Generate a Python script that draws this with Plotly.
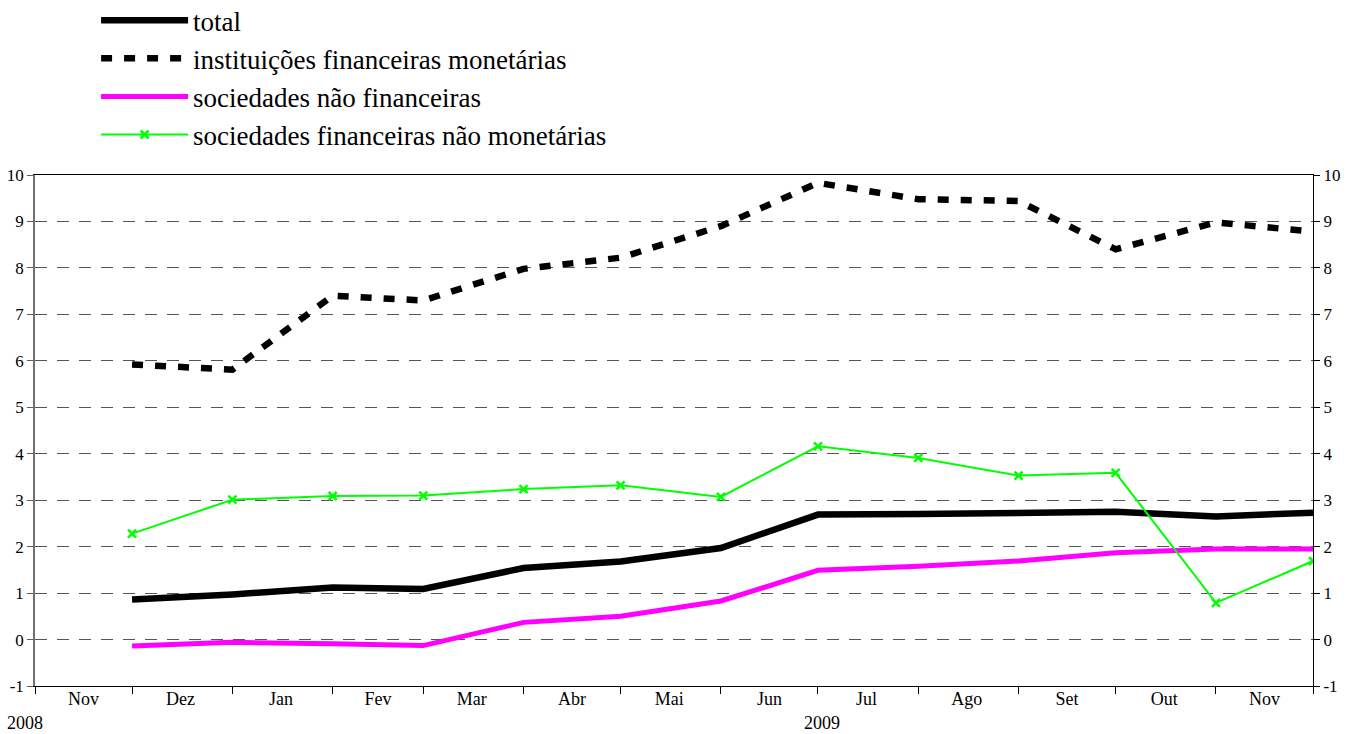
import plotly.graph_objects as go

# End-of-month observation dates (plotted at month boundaries)
period_end = ["2008-12-01", "2009-01-01", "2009-02-01", "2009-03-01", "2009-04-01",
              "2009-05-01", "2009-06-01", "2009-07-01", "2009-08-01", "2009-09-01",
              "2009-10-01", "2009-11-01", "2009-12-01"]

total = [0.86, 0.97, 1.12, 1.09, 1.54, 1.68, 1.97, 2.69, 2.70, 2.74, 2.75, 2.65, 2.73]
inst_fin_monetarias = [5.92, 5.81, 7.40, 7.30, 7.98, 8.22, 8.90, 9.83, 9.48, 9.44, 8.40, 8.98, 8.78]
soc_nao_financeiras = [-0.14, -0.06, -0.09, -0.13, 0.37, 0.50, 0.83, 1.49, 1.58, 1.69, 1.87, 1.95, 1.95]
soc_fin_nao_monetarias = [2.28, 3.01, 3.09, 3.10, 3.24, 3.32, 3.07, 4.16, 3.91, 3.53, 3.59, 0.79, 1.69]

series_names = ["total", "instituições financeiras monetárias",
                "sociedades não financeiras", "sociedades financeiras não monetárias"]

month_mid = ["2008-11-16", "2008-12-16", "2009-01-16", "2009-02-15", "2009-03-16",
             "2009-04-16", "2009-05-16", "2009-06-16", "2009-07-16", "2009-08-16",
             "2009-09-16", "2009-10-16", "2009-11-16"]
month_labels = ["Nov", "Dez", "Jan", "Fev", "Mar", "Abr", "Mai", "Jun", "Jul", "Ago",
                "Set", "Out", "Nov"]
month_bounds = ["2008-11-01", "2008-12-01", "2009-01-01", "2009-02-01", "2009-03-01",
                "2009-04-01", "2009-05-01", "2009-06-01", "2009-07-01", "2009-08-01",
                "2009-09-01", "2009-10-01", "2009-11-01", "2009-12-01"]
year_labels = ["2008", "2009"]
y_ticks = list(range(-1, 11))
y_tick_text = [str(v) for v in y_ticks]

FONT = "Liberation Serif, Times New Roman, serif"
x_range = ["2008-11-01", "2009-12-01"]

fig = go.Figure()
fig.add_trace(go.Scatter(x=period_end, y=total, name=series_names[0], mode="lines",
                         line=dict(color="#000000", width=6.5)))
fig.add_trace(go.Scatter(x=period_end, y=inst_fin_monetarias, name=series_names[1], mode="lines",
                         line=dict(color="#000000", width=6.5, dash="11px,12px")))
fig.add_trace(go.Scatter(x=period_end, y=soc_nao_financeiras, name=series_names[2], mode="lines",
                         line=dict(color="#FF00FF", width=5)))
fig.add_trace(go.Scatter(x=period_end, y=soc_fin_nao_monetarias, name=series_names[3],
                         mode="lines+markers",
                         line=dict(color="#00FF00", width=2),
                         marker=dict(symbol="x-thin", size=8, color="#00FF00",
                                     line=dict(color="#00FF00", width=2.5))))
# helper invisible trace binding secondary axes
fig.add_trace(go.Scatter(x=[x_range[0]], y=[None], xaxis="x2", yaxis="y2",
                         showlegend=False, hoverinfo="skip", mode="lines"))

fig.update_layout(
    width=1367, height=734,
    margin=dict(l=35, r=54, t=175, b=48, autoexpand=False),
    paper_bgcolor="white", plot_bgcolor="white",
    font=dict(family=FONT, color="#000000", size=17),
    showlegend=True,
    legend=dict(x=0.0478, y=1.350,
                xanchor="left", yanchor="top",
                font=dict(family=FONT, size=27, color="#000000"),
                bgcolor="rgba(0,0,0,0)", itemwidth=87, tracegroupgap=0),
    xaxis=dict(type="date", range=x_range, tickmode="array", tickvals=month_bounds,
               showticklabels=False, ticks="outside", ticklen=7, tickcolor="#000000",
               showgrid=False, showline=True, linecolor="#000000", linewidth=1,
               mirror=True, zeroline=False, automargin=False),
    xaxis2=dict(type="date", range=x_range, overlaying="x", side="bottom",
                tickmode="array", tickvals=month_mid, ticktext=month_labels,
                ticks="", showgrid=False, showline=False, zeroline=False,
                tickfont=dict(family=FONT, size=18), automargin=False),
    yaxis=dict(range=[-1, 10], tickmode="array", tickvals=y_ticks, ticktext=y_tick_text,
               ticks="outside", ticklen=6, tickcolor="#606060",
               showgrid=True, gridcolor="#555555", gridwidth=1, griddash="12px,10px",
               showline=True, linecolor="#707070", linewidth=1.5, zeroline=False,
               tickfont=dict(family=FONT, size=17), automargin=False),
    yaxis2=dict(range=[-1, 10], overlaying="y", side="right", tickmode="array",
                tickvals=y_ticks, ticktext=y_tick_text, ticks="outside", ticklen=6,
                tickcolor="#000000",
                showgrid=False, showline=True, linecolor="#000000", linewidth=1,
                zeroline=False, tickfont=dict(family=FONT, size=17), automargin=False),
)

fig.add_annotation(x="2008-11-01", y=0, xref="x", yref="paper", yshift=-25,
                   text=year_labels[0], showarrow=False, xanchor="center", yanchor="top",
                   xshift=-10, font=dict(family=FONT, size=18))
fig.add_annotation(x="2009-07-01", y=0, xref="x", yref="paper", yshift=-25,
                   text=year_labels[1], showarrow=False, xanchor="center", yanchor="top",
                   xshift=4, font=dict(family=FONT, size=18))

fig.write_html("out.html", config={"displayModeBar": False},
               post_script="document.body.style.margin='0px';document.body.style.overflow='hidden';")
